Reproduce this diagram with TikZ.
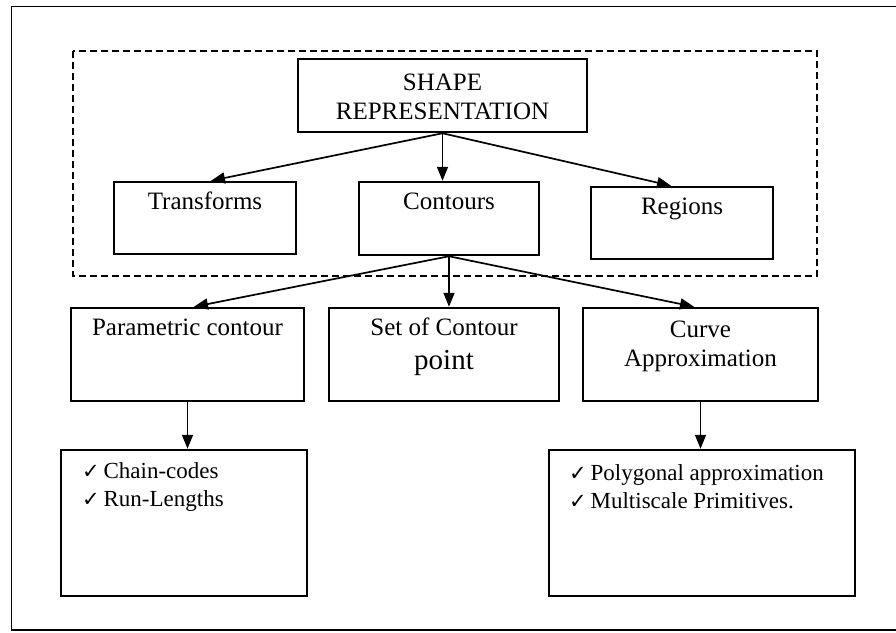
\documentclass[tikz,border=0pt]{standalone}
\usepackage{fontspec}
\setmainfont{Liberation Serif}
\newfontfamily\symfont{DejaVu Sans}
\usetikzlibrary{arrows.meta,calc}
\tikzset{
  box/.style={draw, line width=2.5pt, inner sep=0pt},
  txt/.style={inner sep=0pt, font=\fontsize{25}{28}\selectfont, text height=0.68em, text depth=0.2em, align=center},
  txtm/.style={inner sep=0pt, font=\fontsize{25}{29}\selectfont, align=center},
  bul/.style={inner sep=0pt, font=\fontsize{23}{28}\selectfont, align=left},
  arr/.style={line width=1.7pt, -{Triangle[length=14pt,width=11pt]}},
  frame/.style={line width=1.9pt},
  dashbox/.style={line width=1.7pt, dash pattern=on 7pt off 4pt}
}
\newcommand{\ck}{{\symfont\fontsize{21}{20}\selectfont ✓}\,}
\begin{document}
\begin{tikzpicture}[x=1pt,y=-1pt]
\useasboundingbox (0,0) rectangle (896,632);
% outer frame
\coordinate (fa) at (896,6.5);
\coordinate (fb) at (11.5,6.5);
\coordinate (fc) at (11.5,630);
\coordinate (fd) at (896,630);
\draw[frame] (fa) -- (fb) -- (fc) -- (fd);
% dashed region
\coordinate (da) at (73,51);
\coordinate (db) at (817,276);
\draw[dashbox] (da) rectangle (db);
% boxes
\node[box, minimum width=289pt, minimum height=73pt] (shape) at (442.5,95.5) {};
\node[txtm] (shapeT) at (442.5,97) {SHAPE\\REPRESENTATION};
\node[box, minimum width=182pt, minimum height=72pt] (trans) at (205,218) {};
\node[txt] (transT) at (205,207) {Transforms};
\node[box, minimum width=180pt, minimum height=73pt] (cont) at (449,218.5) {};
\node[txt] (contT) at (449,207) {Contours};
\node[box, minimum width=182pt, minimum height=72pt] (reg) at (682,223) {};
\node[txt] (regT) at (682,212) {Regions};
\node[box, minimum width=233pt, minimum height=93pt] (param) at (187.5,354.5) {};
\node[txt] (paramT) at (187.5,333) {Parametric contour};
\node[box, minimum width=230pt, minimum height=93pt] (set) at (444,354.5) {};
\node[txt] (setT1) at (444,333) {Set of Contour};
\node[txt, font=\fontsize{29}{32}\selectfont] (setT2) at (444,367) {point};
\node[box, minimum width=235pt, minimum height=93pt] (curve) at (700.5,354.5) {};
\node[txtm] (curveT) at (700.5,346) {Curve\\Approximation};
\node[box, minimum width=246pt, minimum height=146pt] (chain) at (184,523) {};
\node[bul, anchor=west] (chainT) at (82,487) {\ck Chain-codes\\\ck Run-Lengths};
\node[box, minimum width=306pt, minimum height=146pt] (poly) at (702,523) {};
\node[bul, anchor=west] (polyT) at (569,487) {\ck Polygonal approximation\\\ck Multiscale Primitives.};
% connectors
\draw[arr] (shape.south) -- ([xshift=6pt]trans.north);
\draw[arr] (shape.south) -- (shape.south |- cont.north);
\draw[arr] (shape.south) -- ([xshift=-11pt]reg.north);
\draw[arr] (cont.south) -- ([xshift=6.5pt]param.north);
\draw[arr] (cont.south) -- (cont.south |- set.north);
\draw[arr] (cont.south) -- ([xshift=-6.5pt]curve.north);
\draw[arr] (param.south) -- (param.south |- chain.north);
\draw[arr] (curve.south) -- (curve.south |- poly.north);
\end{tikzpicture}
\end{document}
